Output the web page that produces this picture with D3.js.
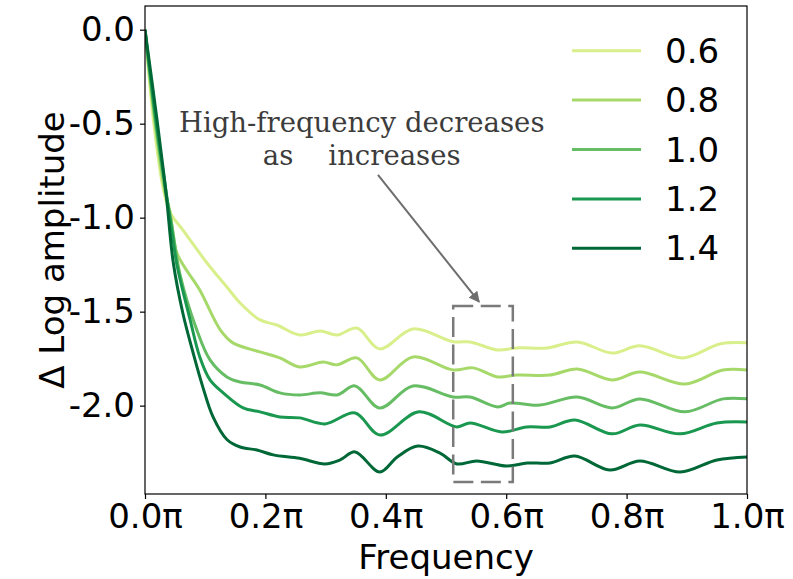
<html>
<script src='https://d3js.org/d3.v7.min.js'></script>
<style> body {margin:0;} text {font-family: 'DejaVu Sans';} </style>
<body onload='init()'>
<svg width=793 height=579></svg>
<script>
/// DATA (freq in units of pi, delta log amplitude)
var betas = ["0.6", "0.8", "1.0", "1.2", "1.4"];
var colors = ["#d9ef8b", "#a6d96a", "#66bd63", "#1a9850", "#006837"];

var curve06 = [[0,0],[0.014,-0.48],[0.030,-0.84],[0.042,-0.975],[0.063,-1.066],[0.103,-1.241],[0.136,-1.369],[0.158,-1.454],[0.191,-1.544],[0.219,-1.571],[0.257,-1.624],[0.291,-1.603],[0.319,-1.624],[0.352,-1.587],[0.390,-1.698],[0.445,-1.592],[0.512,-1.660],[0.540,-1.661],[0.586,-1.704],[0.618,-1.693],[0.668,-1.693],[0.718,-1.661],[0.776,-1.720],[0.822,-1.682],[0.894,-1.746],[0.955,-1.672],[1.0,-1.666]];
var curve08 = [[0,0],[0.016,-0.48],[0.033,-0.86],[0.042,-0.975],[0.053,-1.188],[0.091,-1.385],[0.125,-1.597],[0.146,-1.666],[0.191,-1.714],[0.224,-1.746],[0.257,-1.794],[0.296,-1.768],[0.319,-1.783],[0.352,-1.746],[0.390,-1.863],[0.445,-1.741],[0.512,-1.810],[0.545,-1.799],[0.586,-1.847],[0.618,-1.837],[0.673,-1.837],[0.718,-1.805],[0.776,-1.863],[0.822,-1.821],[0.897,-1.885],[0.960,-1.810],[1.0,-1.810]];
var curve10 = [[0,0],[0.017,-0.48],[0.034,-0.86],[0.045,-1.05],[0.058,-1.30],[0.086,-1.597],[0.108,-1.757],[0.136,-1.847],[0.158,-1.874],[0.191,-1.890],[0.224,-1.932],[0.257,-1.943],[0.291,-1.932],[0.319,-1.943],[0.349,-1.895],[0.390,-2.012],[0.445,-1.895],[0.512,-1.954],[0.540,-1.954],[0.586,-2.007],[0.606,-1.986],[0.656,-1.997],[0.718,-1.954],[0.776,-2.012],[0.822,-1.964],[0.897,-2.033],[0.960,-1.964],[1.0,-1.964]];
var curve12 = [[0,0],[0.018,-0.48],[0.035,-0.86],[0.046,-1.10],[0.053,-1.25],[0.075,-1.544],[0.091,-1.741],[0.108,-1.863],[0.130,-1.932],[0.163,-2.012],[0.191,-2.033],[0.224,-2.060],[0.257,-2.065],[0.299,-2.097],[0.349,-2.039],[0.390,-2.156],[0.455,-2.033],[0.518,-2.113],[0.540,-2.092],[0.593,-2.140],[0.634,-2.113],[0.673,-2.113],[0.714,-2.076],[0.776,-2.150],[0.822,-2.103],[0.889,-2.150],[0.950,-2.092],[1.0,-2.087]];
var curve14 = [[0,0],[0.020,-0.48],[0.035,-0.87],[0.047,-1.24],[0.063,-1.51],[0.080,-1.72],[0.096,-1.90],[0.113,-2.06],[0.136,-2.18],[0.158,-2.22],[0.186,-2.236],[0.213,-2.262],[0.257,-2.280],[0.299,-2.310],[0.324,-2.289],[0.349,-2.246],[0.390,-2.353],[0.419,-2.273],[0.453,-2.215],[0.490,-2.252],[0.518,-2.310],[0.551,-2.294],[0.601,-2.321],[0.635,-2.305],[0.673,-2.305],[0.714,-2.268],[0.772,-2.342],[0.822,-2.294],[0.889,-2.353],[0.950,-2.289],[1.0,-2.273]];

var xTicks = [0, 0.2, 0.4, 0.6, 0.8, 1.0];
var yTicks = [0, -0.5, -1.0, -1.5, -2.0];

function init() {
var series = [curve06, curve08, curve10, curve12, curve14];
var svg = d3.select("svg");

var xs = d3.scaleLinear().domain([0, 1]).range([145, 747]); ///scales
var ys = d3.scaleLinear().domain([-2.47, 0.126]).range([494, 6]);

svg.append("clipPath").attr("id", "clip").append("rect")
.attr("x", xs(0)).attr("y", ys(0.126))
.attr("width", xs(1) - xs(0)).attr("height", ys(-2.47) - ys(0.126));

/// CURVES
var line = d3.line()
.x(function(d) {return xs(d[0]);})
.y(function(d) {return ys(d[1]);})
.curve(d3.curveCatmullRom.alpha(0.5));

svg.append("g").attr("clip-path", "url(#clip)")
.selectAll("path").data(series).enter().append("path")
.attr("d", line)
.attr("fill", "none")
.attr("stroke", function(d, i) {return colors[i];})
.attr("stroke-width", 3)
.attr("stroke-linejoin", "round");

/// AXISES
var gx = svg.append("g")
.attr("transform", "translate(0," + ys(-2.47) + ")")
.call(d3.axisBottom(xs).tickValues(xTicks).tickSize(5).tickPadding(5)
.tickFormat(function(d) {return d.toFixed(1) + "π";}));
var gy = svg.append("g")
.attr("transform", "translate(" + xs(0) + ",0)")
.call(d3.axisLeft(ys).tickValues(yTicks).tickSize(5).tickPadding(5)
.tickFormat(function(d) {return d.toFixed(1);}));
[gx, gy].forEach(function(g) {
  g.select(".domain").remove();
  g.selectAll("text").style("font-size", "34px").style("font-family", "DejaVu Sans").attr("fill", "#000");
  g.selectAll("line").attr("stroke", "#000").attr("stroke-width", 1.2);
});

/// frame
svg.append("rect")
.attr("x", xs(0)).attr("y", ys(0.126))
.attr("width", xs(1) - xs(0)).attr("height", ys(-2.47) - ys(0.126))
.attr("fill", "none").attr("stroke", "#000").attr("stroke-width", 1.2);

/// TEXTS
svg.append("text") ///BOTTOM
.attr("x", (xs(0) + xs(1)) / 2).attr("y", 569)
.attr("text-anchor", "middle")
.style("font-size", "34px")
.text("Frequency");

svg.append("text") ///LEFT
.attr("transform", "translate(52," + (ys(0.126) + ys(-2.47)) / 2 + ") rotate(-90)")
.attr("text-anchor", "middle").attr("dominant-baseline", "central")
.style("font-size", "34px")
.text("Δ Log amplitude");

/// LEGEND
var leg = svg.append("g").selectAll("g").data(betas).enter().append("g")
.attr("transform", function(d, i) {return "translate(572," + (50.7 + i * 49.4) + ")";});
leg.append("line").attr("x1", 0).attr("x2", 69)
.attr("stroke", function(d, i) {return colors[i];}).attr("stroke-width", 3);
leg.append("text").attr("x", 93).attr("dominant-baseline", "central")
.style("font-size", "34px")
.text(function(d) {return d;});

/// ANNOTATION
svg.append("rect")
.attr("x", xs(0.512)).attr("y", ys(-1.47))
.attr("width", xs(0.611) - xs(0.512)).attr("height", ys(-2.406) - ys(-1.47))
.attr("fill", "none").attr("stroke", "#7a7a7a").attr("stroke-width", 2.5)
.attr("stroke-dasharray", "20 7.5");

svg.append("defs").append("marker").attr("id", "head")
.attr("viewBox", "0 0 10 10").attr("refX", 9).attr("refY", 5)
.attr("markerWidth", 11).attr("markerHeight", 11).attr("markerUnits", "userSpaceOnUse")
.attr("orient", "auto")
.append("path").attr("d", "M0,0 L10,5 L0,10 z").attr("fill", "#6e6e6e");

svg.append("line")
.attr("x1", xs(0.387)).attr("y1", ys(-0.773))
.attr("x2", xs(0.555)).attr("y2", ys(-1.448))
.attr("stroke", "#6e6e6e").attr("stroke-width", 2)
.attr("marker-end", "url(#head)");

var note = svg.append("text")
.attr("text-anchor", "middle")
.style("font-family", "DejaVu Serif").style("font-size", "27.5px")
.style("white-space", "pre").attr("fill", "#3c3c3c");
note.append("tspan").attr("x", xs(0.36)).attr("y", ys(-0.545)).text("High-frequency decreases");
note.append("tspan").attr("x", xs(0.36)).attr("y", ys(-0.72)).text("as    increases");
}
</script>
</body>
</html>
